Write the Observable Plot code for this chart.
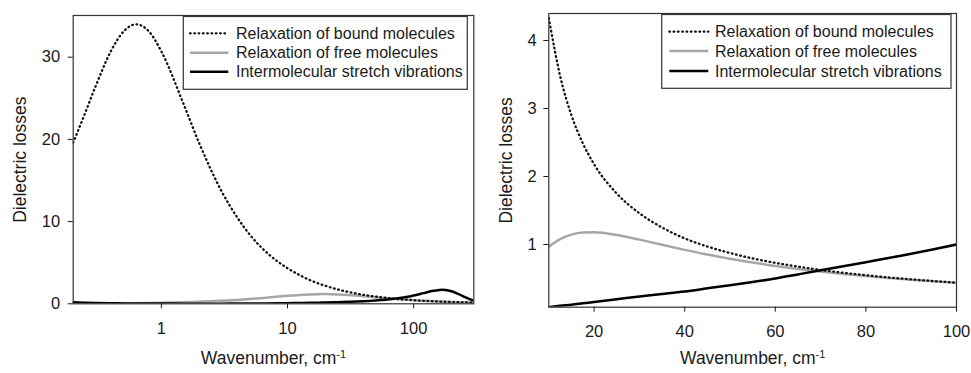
<!DOCTYPE html>
<html><head><meta charset="utf-8">
<script src="https://cdn.jsdelivr.net/npm/d3@7"></script>
<script src="https://cdn.jsdelivr.net/npm/@observablehq/plot@0.6"></script>
<style>
body{margin:0;background:#fff;}
#wrap{display:flex;width:971px;height:373px;overflow:hidden;}
svg{display:block;flex:none}
</style></head><body><div id="wrap"></div>
<script>
// Wavenumber, cm^-1
const wavenumber = [0.2, 0.25, 0.3, 0.4, 0.5, 0.63, 0.8, 1, 1.5, 2, 3, 4, 5, 7, 10, 12.5, 15, 17.5, 20, 25, 30, 35, 40, 45, 50, 55, 60, 65, 70, 75, 80, 85, 90, 95, 100, 120, 140, 160, 170, 185, 200, 225, 250, 275, 300];
// Relaxation of bound molecules
const bound = [19.6, 23.3, 26.4, 30.8, 33.1, 34.0, 33.1, 30.7, 24.3, 19.5, 13.7, 10.5, 8.45, 6.1, 4.33, 3.48, 2.9, 2.49, 2.18, 1.75, 1.46, 1.25, 1.09, 0.97, 0.875, 0.795, 0.73, 0.675, 0.625, 0.585, 0.548, 0.515, 0.487, 0.461, 0.438, 0.365, 0.313, 0.274, 0.258, 0.237, 0.219, 0.195, 0.175, 0.159, 0.146];
// Relaxation of free molecules
const free = [0.025, 0.031, 0.037, 0.049, 0.061, 0.077, 0.098, 0.123, 0.183, 0.243, 0.36, 0.471, 0.575, 0.76, 0.967, 1.079, 1.145, 1.175, 1.179, 1.14, 1.072, 0.995, 0.921, 0.852, 0.79, 0.734, 0.685, 0.641, 0.602, 0.567, 0.536, 0.507, 0.482, 0.458, 0.437, 0.368, 0.317, 0.279, 0.264, 0.242, 0.224, 0.2, 0.18, 0.164, 0.15];
// Intermolecular stretch vibrations
const stretch = [0.18, 0.14, 0.11, 0.07, 0.05, 0.04, 0.03, 0.03, 0.02, 0.02, 0.02, 0.03, 0.03, 0.05, 0.08, 0.1, 0.115, 0.135, 0.155, 0.195, 0.235, 0.272, 0.31, 0.355, 0.4, 0.448, 0.5, 0.56, 0.62, 0.68, 0.74, 0.8, 0.865, 0.93, 1.0, 1.3, 1.55, 1.69, 1.71, 1.66, 1.52, 1.2, 0.88, 0.6, 0.38];

const seriesNames = ["Relaxation of bound molecules", "Relaxation of free molecules", "Intermolecular stretch vibrations"];
const leftXTicks = [1, 10, 100];
const leftYTicks = [0, 10, 20, 30];
const rightXTicks = [20, 40, 60, 80, 100];
const rightYTicks = [1, 2, 3, 4];
const yLabel = "Dielectric losses";
const xLabel = "Wavenumber, cm";
const xLabelSup = "-1";

const rows = wavenumber.map((w, i) => ({w, bound: bound[i], free: free[i], stretch: stretch[i]}));
const FONT = "'Liberation Sans', Arial, Helvetica, sans-serif";
const styles = [
  {key: "bound", stroke: "#111", strokeWidth: 2.3, strokeDasharray: "0.7,3.6", strokeLinecap: "round"},
  {key: "free", stroke: "#a6a6a6", strokeWidth: 2.5},
  {key: "stretch", stroke: "#000", strokeWidth: 2.5}
];
const drawOrder = [1, 0, 2];

function makePanel(cfg) {
  const data = rows.filter(d => d.w >= cfg.xDomain[0] && d.w <= cfg.xDomain[1]);
  const lines = drawOrder.map(i => {
    const s = styles[i];
    return Plot.line(data, {x: "w", y: s.key, stroke: s.stroke, strokeWidth: s.strokeWidth,
      strokeDasharray: s.strokeDasharray, strokeLinecap: s.strokeLinecap, curve: "monotone-x", clip: true});
  });
  const svg = Plot.plot({
    width: cfg.width, height: 373,
    marginLeft: cfg.ml, marginRight: cfg.mr, marginTop: cfg.mt, marginBottom: cfg.mb,
    style: {fontFamily: FONT, fontSize: "16px", color: "#1a1a1a", background: "#fff", overflow: "visible"},
    x: {type: cfg.xType, domain: cfg.xDomain},
    y: {domain: cfg.yDomain},
    marks: [
      ...lines,
      Plot.frame({stroke: "#333", strokeWidth: 1.2}),
      Plot.axisX(cfg.xTicks, {tickSize: 5, tickPadding: 13, tickFormat: d => String(d), label: null, fontSize: 16.5}),
      Plot.axisY(cfg.yTicks, {tickSize: 5, tickPadding: cfg.yPad, tickFormat: d => String(d), label: null, fontSize: 16.5}),
      Plot.text([yLabel], {frameAnchor: "left", dx: cfg.yLabelDx, rotate: -90, textAnchor: "middle", lineAnchor: "middle", fontSize: 17.5}),
      Plot.text([xLabel], {frameAnchor: "bottom", dy: cfg.xLabelDy, textAnchor: "middle", lineAnchor: "middle", fontSize: 17.5})
    ]
  });
  // superscript on the x label
  d3.select(svg).selectAll("text").filter(function() { return this.textContent === xLabel; })
    .each(function() {
      const t = d3.select(this);
      t.text(null);
      t.append("tspan").text(xLabel);
      t.append("tspan").attr("dy", "-0.55em").attr("font-size", "11px").text(xLabelSup);
    });
  // legend box
  const L = cfg.legend;
  const g = d3.select(svg).append("g").attr("font-family", FONT).attr("font-size", "16px")
    .attr("fill", "#1a1a1a").attr("text-anchor", "start");
  g.append("rect").attr("x", L.x).attr("y", L.y).attr("width", L.w).attr("height", L.h)
    .attr("fill", "#fff").attr("stroke", "#333").attr("stroke-width", 1.2);
  seriesNames.forEach((name, i) => {
    const s = styles[i];
    const y = L.rows[i];
    g.append("line").attr("x1", L.lx1).attr("x2", L.lx2).attr("y1", y).attr("y2", y)
      .attr("stroke", s.stroke).attr("stroke-width", s.strokeWidth)
      .attr("stroke-linecap", s.strokeLinecap || "butt")
      .attr("stroke-dasharray", s.strokeDasharray || null);
    g.append("text").attr("x", L.tx).attr("y", y).attr("dy", "0.35em").attr("text-anchor", "start")
      .style("font-size", "16px").text(name);
  });
  return svg;
}

const wrap = document.getElementById("wrap");
wrap.append(makePanel({
  width: 485, ml: 72.7, mr: 11.7, mt: 15, mb: 69.7,
  xType: "log", xDomain: [0.2, 300], yDomain: [0, 35.07],
  xTicks: leftXTicks, yTicks: leftYTicks, yPad: 8,
  yLabelDx: -52.7, xLabelDy: 54.7,
  legend: {x: 183.3, y: 16.5, w: 284, h: 72.8, lx1: 190, lx2: 228.3, tx: 236, rows: [33.3, 52.7, 71.7]}
}));
wrap.append(makePanel({
  width: 486, ml: 63.3, mr: 15, mt: 13, mb: 66.3,
  xType: "linear", xDomain: [10, 100], yDomain: [0.078, 4.397],
  xTicks: rightXTicks, yTicks: rightYTicks, yPad: 7,
  yLabelDx: -42.3, xLabelDy: 51.3,
  legend: {x: 176.7, y: 14.5, w: 289.3, h: 73.8, lx1: 184.3, lx2: 223.3, tx: 230, rows: [31.7, 51, 71]}
}));
</script></body></html>
